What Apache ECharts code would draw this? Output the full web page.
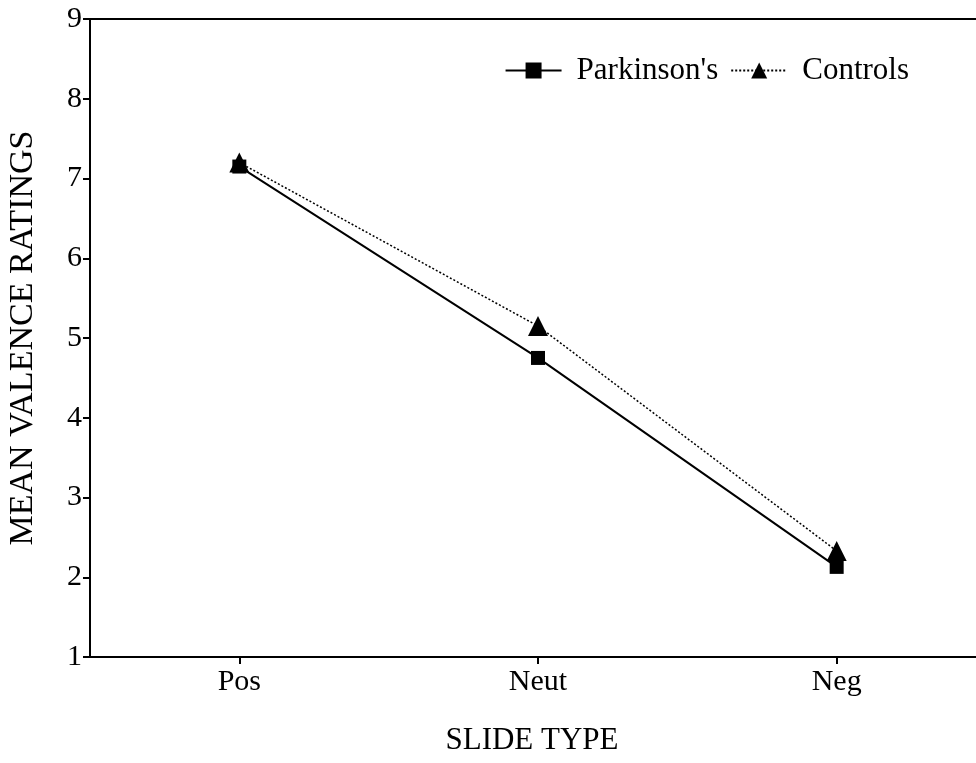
<!DOCTYPE html>
<html>
<head>
<meta charset="utf-8">
<script src="https://cdn.jsdelivr.net/npm/echarts@6/dist/echarts.min.js"></script>
<style>
html,body{margin:0;padding:0;background:#fff;}
#chart{width:976px;height:763px;}
</style>
</head>
<body>
<div id="chart"></div>
<script>
const categories = ['Pos', 'Neut', 'Neg'];
const parkinsons = [7.15, 4.75, 2.13];
const controls = [7.2, 5.15, 2.33];
const yTicks = [1, 2, 3, 4, 5, 6, 7, 8, 9];

const font = '"Liberation Serif", "DejaVu Serif", serif';
const chart = echarts.init(document.getElementById('chart'));
chart.setOption({
  backgroundColor: '#fff',
  animation: false,
  grid: { left: 90, top: 19, width: 896, bottom: 106, containLabel: false, outerBoundsMode: 'none' },
  legend: {
    right: 62, top: 50,
    itemWidth: 56, itemHeight: 20, itemGap: 12,
    textStyle: { fontFamily: font, fontSize: 31, color: '#000', padding: [0, 0, 0, 10] },
    data: ["Parkinson's", 'Controls']
  },
  xAxis: [{
    type: 'value', min: -0.5, max: 2.5, interval: 0.5,
    name: 'SLIDE TYPE', nameLocation: 'middle', nameGap: 68,
    nameTextStyle: { fontFamily: font, fontSize: 31, color: '#000', padding: [0, 12, 0, 0] },
    axisLine: { show: true, onZero: false, lineStyle: { color: '#000', width: 2 } },
    axisTick: { show: true, inside: false, length: 7, lineStyle: { color: '#000', width: 2 },
      customValues: [0, 1, 2] },
    axisLabel: { fontFamily: font, fontSize: 30, color: '#000', margin: 10,
      customValues: [0, 1, 2],
      formatter: v => categories[Math.round(v)] },
    splitLine: { show: false }
  }, {
    type: 'value', position: 'top', min: -0.5, max: 2.5,
    axisLine: { show: true, onZero: false, lineStyle: { color: '#000', width: 2 } },
    axisTick: { show: false }, axisLabel: { show: false }, splitLine: { show: false }
  }],
  yAxis: {
    type: 'value', min: yTicks[0], max: yTicks[yTicks.length - 1], interval: 1,
    name: 'MEAN VALENCE RATINGS', nameLocation: 'middle', nameGap: 50,
    nameTextStyle: { fontFamily: font, fontSize: 34, color: '#000' },
    axisLine: { show: true, onZero: false, lineStyle: { color: '#000', width: 2 } },
    axisTick: { show: true, length: 7, lineStyle: { color: '#000', width: 2 } },
    axisLabel: { fontFamily: font, fontSize: 30, color: '#000', margin: 8 },
    splitLine: { show: false }
  },
  series: [{
    name: "Parkinson's", type: 'line',
    data: parkinsons.map((v, i) => [i, v]),
    symbol: 'rect', symbolSize: 14,
    itemStyle: { color: '#000' },
    lineStyle: { color: '#000', width: 2, type: 'solid' },
    z: 2
  }, {
    name: 'Controls', type: 'line',
    data: controls.map((v, i) => [i, v]),
    symbol: 'triangle', symbolSize: 20,
    itemStyle: { color: '#000' },
    lineStyle: { color: '#000', width: 1.5, type: [2, 2] },
    z: 3
  }]
});
</script>
</body>
</html>
